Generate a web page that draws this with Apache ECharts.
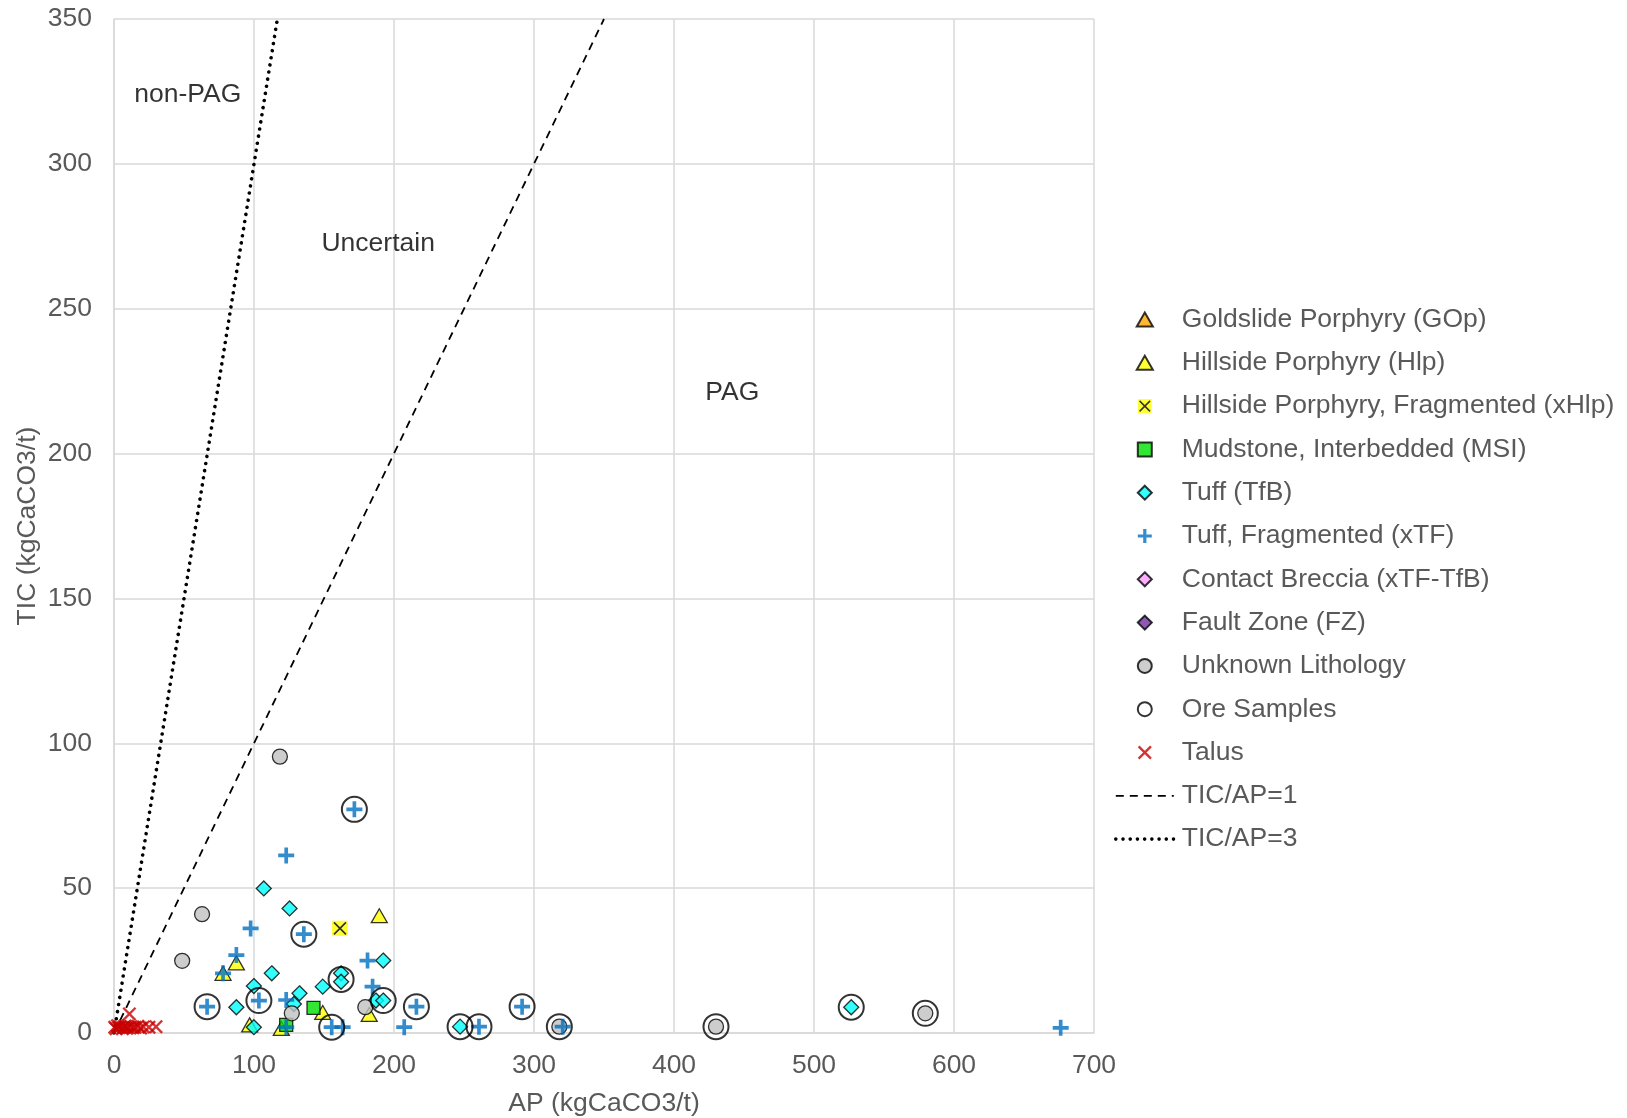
<!DOCTYPE html>
<html>
<head>
<meta charset="utf-8">
<script src="https://cdn.jsdelivr.net/npm/echarts@6/dist/echarts.min.js"></script>
<style>
html,body{margin:0;padding:0;background:#fff;}
#chart{width:1627px;height:1118px;}
</style>
</head>
<body>
<div id="chart"></div>
<script>
// ---- Data (AP, TIC) in kgCaCO3/t ----
const seriesNames = [
  'Goldslide Porphyry (GOp)',
  'Hillside Porphyry (Hlp)',
  'Hillside Porphyry, Fragmented (xHlp)',
  'Mudstone, Interbedded (MSI)',
  'Tuff (TfB)',
  'Tuff, Fragmented (xTF)',
  'Contact Breccia (xTF-TfB)',
  'Fault Zone (FZ)',
  'Unknown Lithology',
  'Ore Samples',
  'Talus',
  'TIC/AP=1',
  'TIC/AP=3'
];
const GOp = [];
const Hlp = [[189.5,40.5],[87.4,24.2],[77.9,20.6],[149.1,7.1],[182.3,6.4],[96.9,2.8],[119.5,1.6]];
const xHlp = [[161.4,36.1]];
const MSI = [[142.5,8.7],[123,2.8]];
const TfB = [[107,49.9],[125.4,43],[192.3,25],[112.7,20.6],[99.9,16.2],[87.4,8.9],[132.5,13.7],[128.5,10],
             [149.1,16],[162.2,20.6],[162.2,17.7],[187.1,11.2],[192.3,11.2],[99.9,2],[247.2,2.2],[526.6,8.9]];
const xTF = [[123,61.3],[171.7,77.2],[97.6,36.1],[135.6,34.1],[87.4,26.9],[181.1,25],[77.9,20.6],[184.7,16],
             [103.5,11.2],[66.5,9.1],[123,11.4],[155.5,2],[163.3,2],[123,2],[207.3,2],[216,9.1],
             [260.7,2.2],[291.5,9.1],[320.5,2.2],[676.2,1.8]];
const xTFTfB = [];
const FZ = [];
const Unknown = [[118.5,95.4],[62.9,41],[48.7,24.9],[127,6.8],[179.5,8.9],[318.1,2.2],[430,2.2],[579.5,6.8]];
const Ore = [[66.5,9.1],[103.5,11.2],[135.6,34.1],[162.2,18.5],[155.5,2],[192.3,11.2],[171.7,77.2],[216,9.1],
             [247.2,2.2],[260.7,2.2],[291.5,9.1],[318.1,2.2],[430,2.2],[526.6,8.9],[579.5,6.8]];
const Talus = [[0.5,2],[1.5,1.5],[2.5,2.5],[3.5,1.8],[4.5,2.2],[6,1.5],[7,2],[8,2.4],[9,1.6],[10,2],[11,6.6],
               [12,2.2],[13.5,1.8],[15,2],[17,2.3],[19,1.7],[21,2.1],[25,2],[30,2.2]];
const ratio1 = [[0,0],[350,350]];
const ratio3 = [[0,0],[116.67,350]];
const zoneLabels = [
  {name:'non-PAG', value:[52.7,324]},
  {name:'Uncertain', value:[188.7,272.3]},
  {name:'PAG', value:[441.6,220.9]}
];
const xTicks = {min:0, max:700, interval:100};
const yTicks = {min:0, max:350, interval:50};

// ---- Symbols ----
const plusPath = 'path://M3.85,0H6.15V3.85H10V6.15H6.15V10H3.85V6.15H0V3.85H3.85Z';
const xPath = 'path://M0,1.2L1.2,0L10,8.8L8.8,10Z M8.8,0L10,1.2L1.2,10L0,8.8Z';
const triPath = 'path://M5,0L10,8.7L0,8.7Z';
const diaPath = 'path://M5,0L10,5L5,10L0,5Z';
const sqPath = 'path://M0,0H10V10H0Z';
const xHlpSvg = "<svg xmlns='http://www.w3.org/2000/svg' width='32' height='32' viewBox='0 0 16 16'>" +
  "<rect x='0' y='0' width='16' height='16' fill='#FFFF00'/>" +
  "<path d='M2 2L14 14M14 2L2 14' stroke='#000' stroke-width='1.7'/></svg>";
const xHlpIcon = 'image://data:image/svg+xml;charset=utf-8,' + encodeURIComponent(xHlpSvg);

const FONT = 'Liberation Sans, Arial, sans-serif';
const border = {borderColor:'#000', borderWidth:1.3};
const hidden = {color:'rgba(0,0,0,0)', borderColor:'rgba(0,0,0,0)', borderWidth:0};

const chart = echarts.init(document.getElementById('chart'), null, {renderer:'canvas'});
const legendData = seriesNames.map(function(n){
  if (n === 'TIC/AP=1') return {name:n, itemStyle:hidden, lineStyle:{width:1.8, color:'#000', type:[8,6]}};
  if (n === 'TIC/AP=3') return {name:n, itemStyle:hidden, lineStyle:{width:3.6, color:'#000', type:[0.01,7.2], cap:'round'}};
  return {name:n};
});
const option = {
  animation:false,
  backgroundColor:'#fff',
  grid:{left:114, top:19, width:980, height:1014, containLabel:false, outerBoundsMode:'none'},
  xAxis:{
    type:'value', min:xTicks.min, max:xTicks.max, interval:xTicks.interval,
    name:'AP (kgCaCO3/t)', nameLocation:'middle', nameGap:57, nameMoveOverlap:false,
    nameTextStyle:{fontSize:26.5, color:'#595959', fontFamily:FONT},
    axisLine:{show:true, lineStyle:{color:'#D9D9D9', width:1.5}},
    axisTick:{show:false},
    axisLabel:{fontSize:26.5, color:'#595959', margin:19, fontFamily:FONT},
    splitLine:{show:true, lineStyle:{color:'#D9D9D9', width:1.5}}
  },
  yAxis:{
    type:'value', min:yTicks.min, max:yTicks.max, interval:yTicks.interval,
    name:'TIC (kgCaCO3/t)', nameLocation:'middle', nameGap:73, nameRotate:90, nameMoveOverlap:false,
    nameTextStyle:{fontSize:26.5, color:'#595959', fontFamily:FONT},
    axisLine:{show:true, lineStyle:{color:'#D9D9D9', width:1.5}},
    axisTick:{show:false},
    axisLabel:{fontSize:26.5, color:'#595959', margin:22, fontFamily:FONT},
    splitLine:{show:true, lineStyle:{color:'#D9D9D9', width:1.5}}
  },
  legend:{
    orient:'vertical', left:1109, top:301,
    itemWidth:58, itemHeight:14, itemGap:16.3,
    textStyle:{fontSize:26.5, color:'#595959', lineHeight:26, fontFamily:FONT, padding:[0,0,0,3]},
    data:legendData,
    selectedMode:false
  },
  series:[
    {name:'TIC/AP=1', type:'line', data:ratio1, symbol:'none', z:1, silent:true,
     itemStyle:hidden,
     lineStyle:{color:'#000', width:1.8, type:[8,6]}},
    {name:'TIC/AP=3', type:'line', data:ratio3, symbol:'none', z:1, silent:true,
     itemStyle:hidden,
     lineStyle:{color:'#000', width:3.6, type:[0.01,7.2], cap:'round'}},
    {name:seriesNames[0], type:'scatter', data:GOp, symbol:triPath, symbolSize:16, symbolKeepAspect:true, z:3,
     itemStyle:Object.assign({color:'#FFA500'}, border)},
    {name:seriesNames[1], type:'scatter', data:Hlp, symbol:triPath, symbolSize:16, symbolKeepAspect:true, z:3,
     itemStyle:Object.assign({color:'#FFFF00'}, border)},
    {name:seriesNames[2], type:'scatter', data:xHlp, symbol:xHlpIcon, symbolSize:16, symbolKeepAspect:true, z:3,
     itemStyle:{color:'#FFFF00'}},
    {name:seriesNames[3], type:'scatter', data:MSI, symbol:sqPath, symbolSize:13, symbolKeepAspect:true, z:3,
     itemStyle:Object.assign({color:'#00E000'}, border)},
    {name:seriesNames[4], type:'scatter', data:TfB, symbol:diaPath, symbolSize:15, symbolKeepAspect:true, z:3,
     itemStyle:Object.assign({color:'#00FFFF'}, border)},
    {name:seriesNames[5], type:'scatter', data:xTF, symbol:plusPath, symbolSize:16, symbolKeepAspect:true, z:4,
     itemStyle:{color:'#0070C0'}},
    {name:seriesNames[6], type:'scatter', data:xTFTfB, symbol:diaPath, symbolSize:15, symbolKeepAspect:true, z:3,
     itemStyle:Object.assign({color:'#FF99FF'}, border)},
    {name:seriesNames[7], type:'scatter', data:FZ, symbol:diaPath, symbolSize:15, symbolKeepAspect:true, z:3,
     itemStyle:Object.assign({color:'#7030A0'}, border)},
    {name:seriesNames[8], type:'scatter', data:Unknown, symbol:'circle', symbolSize:15, symbolKeepAspect:true, z:3,
     itemStyle:Object.assign({color:'#C0C0C0'}, border)},
    {name:seriesNames[9], type:'scatter', data:Ore, symbol:'circle', symbolSize:25, symbolKeepAspect:true, z:5,
     itemStyle:{color:'rgba(255,255,255,0)', borderColor:'#000', borderWidth:2}},
    {name:seriesNames[10], type:'scatter', data:Talus, symbol:xPath, symbolSize:14, symbolKeepAspect:true, z:6,
     itemStyle:{color:'#C80000'}},
    {name:'zones', type:'scatter', data:zoneLabels, symbolSize:0, z:7, silent:true,
     label:{show:true, position:'inside', formatter:function(p){return p.name;}, fontSize:26.5, color:'#000',
            fontFamily:FONT}}
  ]
};
chart.setOption(option);
</script>
</body>
</html>
